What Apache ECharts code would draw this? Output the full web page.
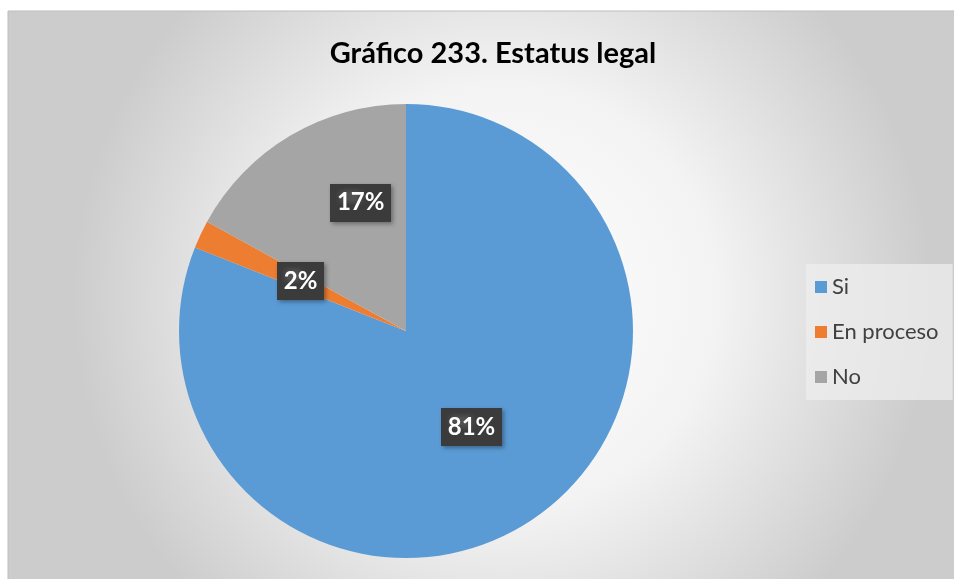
<!DOCTYPE html>
<html>
<head>
<meta charset="utf-8">
<script src="https://cdn.jsdelivr.net/npm/echarts@6/dist/echarts.min.js"></script>
<style>
  html, body { margin: 0; padding: 0; background: #fff; }
  #main { width: 954px; height: 579px; }
</style>
</head>
<body>
<div id="main"></div>
<script>
const categories = ['Si', 'En proceso', 'No'];
const values = [81, 2, 17];
const colors = ['#5b9bd5', '#ed7d31', '#a5a5a5'];

// dotted dark texture for the data labels
const tex = document.createElement('canvas');
tex.width = 6; tex.height = 6;
const tctx = tex.getContext('2d');
tctx.fillStyle = '#3b3b3b';
tctx.fillRect(0, 0, 6, 6);
tctx.fillStyle = '#515151';
tctx.fillRect(1, 1, 2, 2);

const chart = echarts.init(document.getElementById('main'));

const labelOffsets = [[0, 0], [0, 0], [14, -28]];

const option = {
  animation: false,
  graphic: [
    {
      type: 'rect',
      z: -10,
      shape: { x: 8, y: 11, width: 950, height: 572 },
      style: {
        fill: new echarts.graphic.RadialGradient(0.52, 0.5, 0.75, [
          { offset: 0, color: '#ffffff' },
          { offset: 0.5, color: '#f3f3f3' },
          { offset: 1, color: '#cccccc' }
        ]),
        stroke: '#bdbdbd',
        lineWidth: 1
      }
    }
  ],
  title: {
    text: 'Gráfico 233. Estatus legal',
    left: 488,
    textAlign: 'center',
    top: 34,
    textStyle: {
      fontFamily: 'Lato',
      fontWeight: 'bold',
      fontSize: 29,
      color: '#000'
    }
  },
  legend: {
    orient: 'vertical',
    left: 806,
    top: 264,
    padding: [12, 14, 12, 9],
    backgroundColor: 'rgba(238,238,238,0.75)',
    itemWidth: 12,
    itemHeight: 12,
    itemGap: 23,
    icon: 'rect',
    data: categories,
    textStyle: {
      fontFamily: 'Lato',
      fontSize: 22,
      color: '#404040',
      lineHeight: 22
    }
  },
  series: [
    {
      type: 'pie',
      center: [406, 331],
      radius: 227,
      startAngle: 90,
      clockwise: true,
      data: categories.map((c, i) => ({
        name: c,
        value: values[i],
        itemStyle: { color: colors[i] },
        label: { offset: labelOffsets[i] }
      })),
      label: {
        show: true,
        position: 'inside',
        formatter: '{d}%',
        fontFamily: 'Lato',
        fontWeight: 'bold',
        fontSize: 24,
        color: '#fff',
        backgroundColor: { image: tex },
        padding: [8, 7, 6, 7],
        shadowColor: 'rgba(0,0,0,0.35)',
        shadowBlur: 4,
        shadowOffsetX: 2,
        shadowOffsetY: 2
      },
      labelLine: { show: false },
      emphasis: { disabled: true }
    }
  ]
};

chart.setOption(option);
</script>
</body>
</html>
